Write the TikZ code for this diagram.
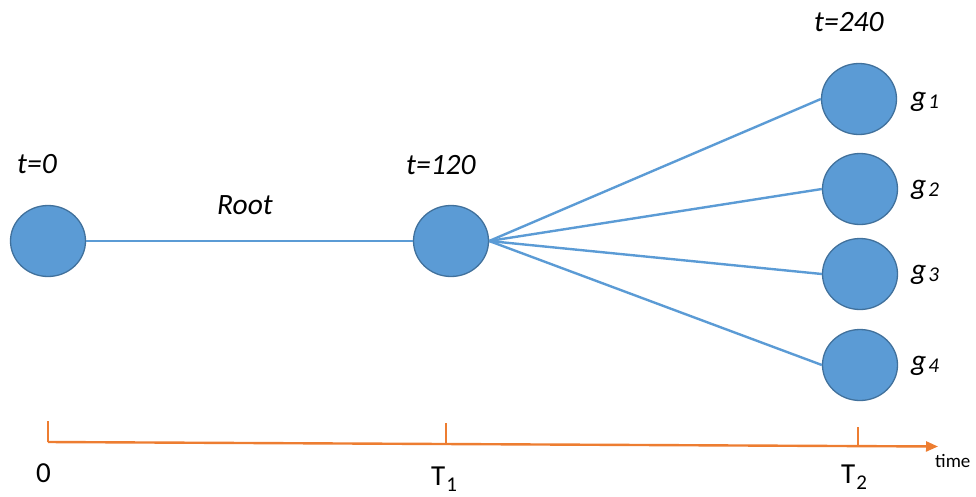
\documentclass[tikz,border=0pt]{standalone}
\usepackage{fontspec}
\setmainfont{Carlito}
\usetikzlibrary{shapes.geometric,arrows.meta}
\definecolor{nodefill}{HTML}{5B9BD5}
\definecolor{nodeedge}{HTML}{41719C}
\definecolor{axisorange}{HTML}{ED7D31}
\newcommand{\gsub}[2]{\textit{#1}\kern2pt\raisebox{-2.5pt}{\fontsize{21}{21}\selectfont\itshape #2}}
\newcommand{\tsub}[2]{#1\kern1pt\raisebox{-6pt}{\fontsize{21}{21}\selectfont #2}}
\begin{document}
\begin{tikzpicture}[x=1pt,y=-1pt,
  gnode/.style={ellipse, draw=nodeedge, line width=1.3pt, fill=nodefill,
    minimum width=75pt, minimum height=71pt, inner sep=0pt},
  edge/.style={draw=nodefill, line width=2.4pt},
  axisline/.style={draw=axisorange, line width=2.4pt},
  lbl/.style={font=\fontsize{29.5}{32}\selectfont\itshape, inner sep=0pt},
  axlbl/.style={font=\fontsize{29}{32}\selectfont, inner sep=0pt},
  smlbl/.style={font=\fontsize{19}{22}\selectfont, inner sep=0pt}]
\useasboundingbox (0,0) rectangle (976,496);

% nodes
\node[gnode] (c0) at (48,241) {};
\node[gnode] (c1) at (451,241) {};
\node[gnode] (g1) at (859,99) {};
\node[gnode] (g2) at (860,189) {};
\node[gnode] (g3) at (860,274) {};
\node[gnode] (g4) at (860,365) {};

% connectors
\draw[edge] (c0.east) -- (c1.west);
\draw[edge] (c1.east) -- (g1.west);
\draw[edge] (c1.east) -- (g2.west);
\draw[edge] (c1.east) -- (g3.west);
\draw[edge] (c1.east) -- (g4.west);

% labels
\node[lbl, anchor=base west] (lt0) at (17,173) {t=0};
\node[lbl, anchor=base west] (lt120) at (406,174) {t=120};
\node[lbl, anchor=base west] (lt240) at (814,31) {t=240};
\node[lbl, anchor=base west] (lroot) at (217,214) {Root};
\node[lbl, anchor=base west] (lg1) at (911,106) {\gsub{g}{1}};
\node[lbl, anchor=base west] (lg2) at (911,194) {\gsub{g}{2}};
\node[lbl, anchor=base west] (lg3) at (911,279) {\gsub{g}{3}};
\node[lbl, anchor=base west] (lg4) at (911,370) {\gsub{g}{4}};

% time axis
\coordinate (a0) at (48,442);
\coordinate (aend) at (938,446.5);
\coordinate (t0top) at (48,421);
\coordinate (t1top) at (446,423);
\coordinate (t1bot) at (446,443.8);
\coordinate (t2top) at (858,427);
\coordinate (t2bot) at (858,446.2);
\draw[axisline, -{Triangle[length=12pt,width=10pt]}] (a0) -- (aend);
\draw[axisline] (t0top) -- (a0);
\draw[axisline] (t1top) -- (t1bot);
\draw[axisline] (t2top) -- (t2bot);

\node[axlbl, anchor=base] (l0) at (43.5,482) {0};
\node[axlbl, anchor=base west] (lT1) at (431,485) {\tsub{T}{1}};
\node[axlbl, anchor=base west] (lT2) at (841,483) {\tsub{T}{2}};
\node[smlbl, anchor=base west] (ltime) at (935,467) {time};
\end{tikzpicture}
\end{document}
